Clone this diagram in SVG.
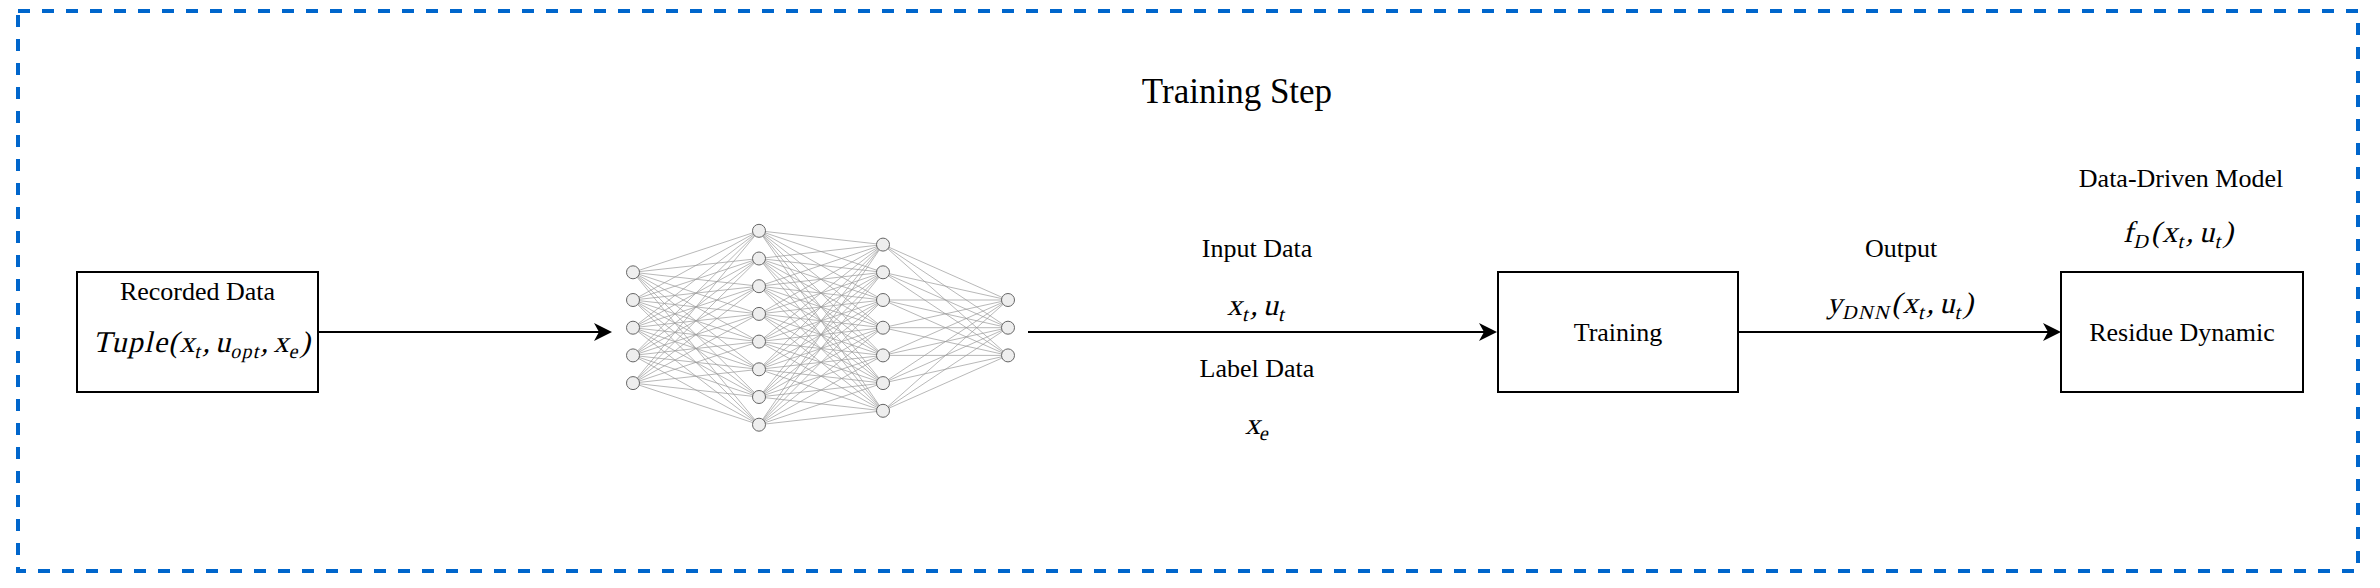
<svg xmlns="http://www.w3.org/2000/svg" width="2380" height="588" viewBox="0 0 2380 588">
<style>
.lbl{font-family:"Liberation Serif","Times New Roman",serif;font-size:26px;fill:#000;text-anchor:middle}
.title{font-family:"Liberation Serif","Times New Roman",serif;font-size:35px;fill:#000;text-anchor:middle}
.m{font-family:"Liberation Serif","Times New Roman",serif;font-style:normal;font-size:30px;fill:#000;text-anchor:middle}
.s{font-size:20px}
.box{fill:#fff;stroke:#000;stroke-width:2}
.edge{fill:none;stroke:#9a9a9a;stroke-width:0.7}
.nd{fill:#eeeeee;stroke:#666;stroke-width:1}
.conn{fill:none;stroke:#000;stroke-width:2}
</style>
<defs>
<marker id="arr" viewBox="0 0 18 18" refX="16" refY="9" markerWidth="18" markerHeight="18" markerUnits="userSpaceOnUse" orient="auto">
<path d="M0 0L18 9L0 18L5 9Z" fill="#000"/>
</marker>
</defs>
<rect width="2380" height="588" fill="#fff"/>
<rect id="frame" x="18" y="11" width="2340" height="560" fill="none" stroke="#0066CC" stroke-width="4" stroke-dasharray="12 12"/>
<text class="title" x="1237" y="103">Training Step</text>

<g id="recorded-data">
<rect class="box" x="77" y="272" width="241" height="120"/>
<text class="lbl" x="197.5" y="300">Recorded Data</text>
<text class="m" transform="translate(201.5,352) skewX(-13)" x="0" y="0" textLength="217" lengthAdjust="spacing">Tuple(x<tspan class="s" dy="6">t</tspan><tspan dy="-6">,</tspan><tspan dx="4">u</tspan><tspan class="s" dy="6">opt</tspan><tspan dy="-6">,</tspan><tspan dx="4">x</tspan><tspan class="s" dy="6">e</tspan><tspan dy="-6">)</tspan></text>
</g>

<g id="neural-network">
<path class="edge" d="M633 272.3L759 230.8M633 272.3L759 258.5M633 272.3L759 286.2M633 272.3L759 313.9M633 272.3L759 341.6M633 272.3L759 369.3M633 272.3L759 397M633 272.3L759 424.7
M633 300L759 230.8M633 300L759 258.5M633 300L759 286.2M633 300L759 313.9M633 300L759 341.6M633 300L759 369.3M633 300L759 397M633 300L759 424.7
M633 327.7L759 230.8M633 327.7L759 258.5M633 327.7L759 286.2M633 327.7L759 313.9M633 327.7L759 341.6M633 327.7L759 369.3M633 327.7L759 397M633 327.7L759 424.7
M633 355.4L759 230.8M633 355.4L759 258.5M633 355.4L759 286.2M633 355.4L759 313.9M633 355.4L759 341.6M633 355.4L759 369.3M633 355.4L759 397M633 355.4L759 424.7
M633 383.1L759 230.8M633 383.1L759 258.5M633 383.1L759 286.2M633 383.1L759 313.9M633 383.1L759 341.6M633 383.1L759 369.3M633 383.1L759 397M633 383.1L759 424.7"/>
<path class="edge" d="M759 230.8L883 244.6M759 230.8L883 272.3M759 230.8L883 300M759 230.8L883 327.7M759 230.8L883 355.4M759 230.8L883 383.1M759 230.8L883 410.8
M759 258.5L883 244.6M759 258.5L883 272.3M759 258.5L883 300M759 258.5L883 327.7M759 258.5L883 355.4M759 258.5L883 383.1M759 258.5L883 410.8
M759 286.2L883 244.6M759 286.2L883 272.3M759 286.2L883 300M759 286.2L883 327.7M759 286.2L883 355.4M759 286.2L883 383.1M759 286.2L883 410.8
M759 313.9L883 244.6M759 313.9L883 272.3M759 313.9L883 300M759 313.9L883 327.7M759 313.9L883 355.4M759 313.9L883 383.1M759 313.9L883 410.8
M759 341.6L883 244.6M759 341.6L883 272.3M759 341.6L883 300M759 341.6L883 327.7M759 341.6L883 355.4M759 341.6L883 383.1M759 341.6L883 410.8
M759 369.3L883 244.6M759 369.3L883 272.3M759 369.3L883 300M759 369.3L883 327.7M759 369.3L883 355.4M759 369.3L883 383.1M759 369.3L883 410.8
M759 397L883 244.6M759 397L883 272.3M759 397L883 300M759 397L883 327.7M759 397L883 355.4M759 397L883 383.1M759 397L883 410.8
M759 424.7L883 244.6M759 424.7L883 272.3M759 424.7L883 300M759 424.7L883 327.7M759 424.7L883 355.4M759 424.7L883 383.1M759 424.7L883 410.8"/>
<path class="edge" d="M883 244.6L1008 300M883 244.6L1008 327.7M883 244.6L1008 355.4
M883 272.3L1008 300M883 272.3L1008 327.7M883 272.3L1008 355.4
M883 300L1008 300M883 300L1008 327.7M883 300L1008 355.4
M883 327.7L1008 300M883 327.7L1008 327.7M883 327.7L1008 355.4
M883 355.4L1008 300M883 355.4L1008 327.7M883 355.4L1008 355.4
M883 383.1L1008 300M883 383.1L1008 327.7M883 383.1L1008 355.4
M883 410.8L1008 300M883 410.8L1008 327.7M883 410.8L1008 355.4"/>
<g class="nd">
<circle cx="633" cy="272.3" r="6.5"/><circle cx="633" cy="300" r="6.5"/><circle cx="633" cy="327.7" r="6.5"/><circle cx="633" cy="355.4" r="6.5"/><circle cx="633" cy="383.1" r="6.5"/>
<circle cx="759" cy="230.8" r="6.5"/><circle cx="759" cy="258.5" r="6.5"/><circle cx="759" cy="286.2" r="6.5"/><circle cx="759" cy="313.9" r="6.5"/><circle cx="759" cy="341.6" r="6.5"/><circle cx="759" cy="369.3" r="6.5"/><circle cx="759" cy="397" r="6.5"/><circle cx="759" cy="424.7" r="6.5"/>
<circle cx="883" cy="244.6" r="6.5"/><circle cx="883" cy="272.3" r="6.5"/><circle cx="883" cy="300" r="6.5"/><circle cx="883" cy="327.7" r="6.5"/><circle cx="883" cy="355.4" r="6.5"/><circle cx="883" cy="383.1" r="6.5"/><circle cx="883" cy="410.8" r="6.5"/>
<circle cx="1008" cy="300" r="6.5"/><circle cx="1008" cy="327.7" r="6.5"/><circle cx="1008" cy="355.4" r="6.5"/>
</g>
</g>

<g id="training">
<rect class="box" x="1498" y="272" width="240" height="120"/>
<text class="lbl" x="1618" y="341">Training</text>
</g>

<g id="residue-dynamic">
<rect class="box" x="2061" y="272" width="242" height="120"/>
<text class="lbl" x="2182" y="341">Residue Dynamic</text>
</g>

<g id="data-driven-model">
<text class="lbl" x="2181" y="187">Data-Driven Model</text>
<text class="m" transform="translate(2178,242) skewX(-13)" x="0" y="0" textLength="110" lengthAdjust="spacing">f<tspan class="s" dy="6">D</tspan><tspan dy="-6">(</tspan>x<tspan class="s" dy="6">t</tspan><tspan dy="-6">,</tspan><tspan dx="4">u</tspan><tspan class="s" dy="6">t</tspan><tspan dy="-6">)</tspan></text>
</g>

<g id="connectors">
<path class="conn" d="M318 332L610 332" marker-end="url(#arr)"/>
<path class="conn" d="M1028 332L1495 332" marker-end="url(#arr)"/>
<path class="conn" d="M1738 332L2059 332" marker-end="url(#arr)"/>
</g>

<g id="edge-labels">
<text class="lbl" x="1257" y="257">Input Data</text>
<text class="m" transform="translate(1256,315) skewX(-13)" x="0" y="0" textLength="58" lengthAdjust="spacing">x<tspan class="s" dy="6">t</tspan><tspan dy="-6">,</tspan><tspan dx="4">u</tspan><tspan class="s" dy="6">t</tspan></text>
<text class="lbl" x="1257" y="377">Label Data</text>
<text class="m" transform="translate(1257,434) skewX(-13)" x="0" y="0">x<tspan class="s" dy="6">e</tspan></text>
<text class="lbl" x="1901" y="257">Output</text>
<text class="m" transform="translate(1900,313) skewX(-13)" x="0" y="0" textLength="146" lengthAdjust="spacing">y<tspan class="s" dy="6">DNN</tspan><tspan dy="-6">(</tspan>x<tspan class="s" dy="6">t</tspan><tspan dy="-6">,</tspan><tspan dx="4">u</tspan><tspan class="s" dy="6">t</tspan><tspan dy="-6">)</tspan></text>
</g>
</svg>
